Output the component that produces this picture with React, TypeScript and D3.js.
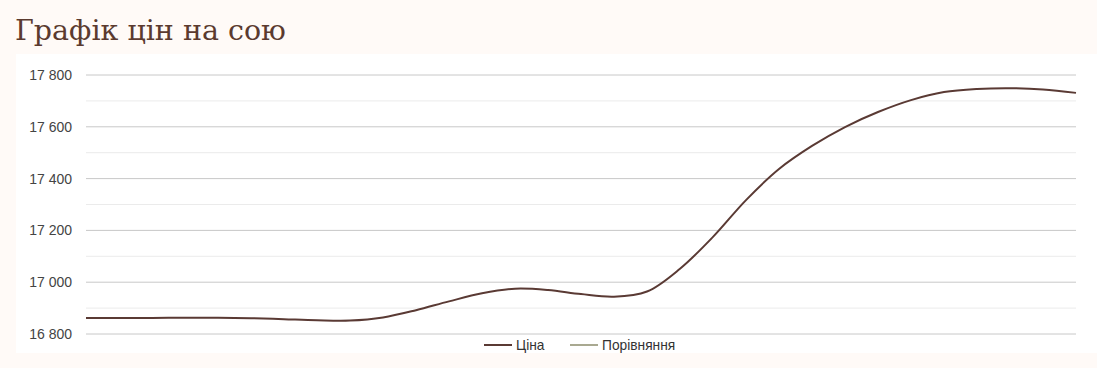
import React from "react";
import * as d3 from "d3";

const title = "Графік цін на сою";
const yTicks = [16800, 17000, 17200, 17400, 17600, 17800];
const yMinor = [16900, 17100, 17300, 17500, 17700];
const priceValues = [
  16862, 16862, 16862, 16863, 16863, 16861, 16857, 16853, 16852, 16864,
  16892, 16926, 16957, 16975, 16970, 16954, 16944, 16964, 17052, 17175,
  17317, 17437, 17526, 17599, 17657, 17703, 17734, 17746, 17749, 17744,
  17731,
];
const seriesNames = ["Ціна", "Порівняння"];
const seriesColors = ["#5a3a34", "#a9a991"];

const W = 1097;
const H = 368;

export default function App() {
  const x = d3.scaleLinear().domain([0, priceValues.length - 1]).range([86, 1076]);
  const y = d3.scaleLinear().domain([16800, 17800]).range([334, 75]);
  const line = d3
    .line<number>()
    .x((_, i) => x(i))
    .y((d) => y(d))
    .curve(d3.curveCatmullRom.alpha(0.5));
  const fmt = (v: number) => d3.format(",")(v).replace(",", " ");
  const legendX = [484, 570];
  return (
    <svg
      width={W}
      height={H}
      style={{ position: "absolute", left: 0, top: 0, display: "block" }}
    >
      <rect x={0} y={0} width={W} height={H} fill="#fffaf7" />
      <text
        x={15}
        y={40}
        fontFamily="'DejaVu Serif', serif"
        fontSize={28.5}
        fill="#5b3a2f"
      >
        {title}
      </text>
      <rect x={16} y={54} width={W - 16} height={299} fill="#ffffff" />
      {yMinor.map((v) => (
        <line key={"m" + v} x1={86} x2={1076} y1={y(v)} y2={y(v)} stroke="#ebebeb" strokeWidth={1} />
      ))}
      {yTicks.map((v) => (
        <g key={v}>
          <line x1={86} x2={1076} y1={y(v)} y2={y(v)} stroke="#c8c8c8" strokeWidth={1} />
          <text
            x={72}
            y={y(v)}
            dy="0.35em"
            textAnchor="end"
            fontFamily="'Liberation Sans', Arial, sans-serif"
            fontSize={14}
            fill="#444"
          >
            {fmt(v)}
          </text>
        </g>
      ))}
      <path d={line(priceValues) || ""} fill="none" stroke={seriesColors[0]} strokeWidth={2} />
      {seriesNames.map((n, i) => (
        <g key={n}>
          <line
            x1={legendX[i]}
            x2={legendX[i] + 28}
            y1={345}
            y2={345}
            stroke={seriesColors[i]}
            strokeWidth={2}
          />
          <text
            x={legendX[i] + 32}
            y={345}
            dy="0.35em"
            fontFamily="'Liberation Sans', Arial, sans-serif"
            fontSize={13.75}
            fill="#333"
          >
            {n}
          </text>
        </g>
      ))}
    </svg>
  );
}
